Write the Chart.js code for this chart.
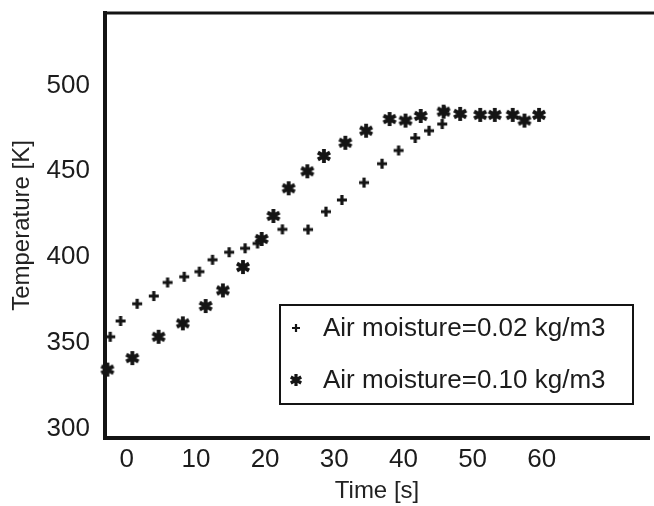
<!DOCTYPE html>
<html>
<head>
<meta charset="utf-8">
<script src="https://cdn.jsdelivr.net/npm/chart.js@4.4.1/dist/chart.umd.min.js"></script>
<style>
  html, body { margin: 0; padding: 0; background: #fff; overflow: hidden; }
  #wrap { width: 654px; height: 506px; }
</style>
</head>
<body>
<div id="wrap"><canvas id="tempChart" width="654" height="506"></canvas></div>
<script>
const timeLow = [-2.4, -0.9, 1.5, 3.9, 5.9, 8.3, 10.5, 12.4, 14.8, 17.1, 18.9, 22.5, 26.2, 28.8, 31.1, 34.3, 36.9, 39.3, 41.7, 43.7, 45.6, 45.9];
const tempLow = [353.7, 362.9, 372.9, 377.4, 385.3, 388.6, 391.6, 398.5, 402.9, 405.2, 408.0, 416.2, 416.1, 426.5, 433.3, 443.4, 454.4, 462.1, 469.4, 473.6, 477.5, 485.0];

const timeHigh = [-2.8, 0.8, 4.6, 8.1, 11.4, 13.9, 16.8, 19.5, 21.2, 23.4, 26.1, 28.5, 31.6, 34.6, 38.0, 40.3, 42.5, 45.8, 48.2, 51.1, 53.2, 55.8, 57.5, 59.6];
const tempHigh = [334.6, 341.3, 353.7, 361.5, 371.6, 380.7, 394.3, 410.6, 424.0, 440.1, 450.0, 458.9, 466.6, 473.6, 480.4, 479.5, 482.2, 484.7, 483.4, 482.8, 482.8, 482.8, 479.5, 482.8];

const seriesLabels = ['Air moisture=0.02 kg/m3', 'Air moisture=0.10 kg/m3'];
const xTicks = [0, 10, 20, 30, 40, 50, 60];
const yTicks = [300, 350, 400, 450, 500];

const ink = '#141414';
const fontFam = '"Liberation Sans", Arial, sans-serif';

function makeMarker(kind, size, lw) {
  const c = document.createElement('canvas');
  c.width = size; c.height = size;
  const g = c.getContext('2d');
  const m = size / 2, r = size / 2 - 1;
  g.strokeStyle = ink;
  g.lineWidth = lw;
  g.beginPath();
  if (kind === 'plus') {
    g.moveTo(m - r, m); g.lineTo(m + r, m);
    g.moveTo(m, m - r); g.lineTo(m, m + r);
  } else {
    for (let k = 0; k < 3; k++) {
      const a = Math.PI / 2 + k * Math.PI / 3;
      g.moveTo(m + r * Math.cos(a), m + r * Math.sin(a));
      g.lineTo(m - r * Math.cos(a), m - r * Math.sin(a));
    }
  }
  g.stroke();
  return c;
}

const plusMark = makeMarker('plus', 12, 3.2);
const starMark = makeMarker('star', 16, 3.8);
const plusSmall = makeMarker('plus', 10, 2.2);
const starSmall = makeMarker('star', 14, 3.2);

const toPoints = (xs, ys) => xs.map((x, i) => ({ x: x, y: ys[i] }));

const framePlugin = {
  id: 'frame',
  beforeDatasetsDraw(chart) {
    const { ctx, chartArea } = chart;
    ctx.save();
    ctx.strokeStyle = ink;
    ctx.lineWidth = 3;
    ctx.beginPath();
    ctx.moveTo(chartArea.left - 2, chartArea.top);
    ctx.lineTo(chart.width, chartArea.top);
    ctx.stroke();
    ctx.restore();
  }
};

const boxLegend = {
  id: 'boxLegend',
  afterDraw(chart) {
    const ctx = chart.ctx;
    const left = 280, top = 305, w = 353, h = 99;
    ctx.save();
    ctx.fillStyle = '#fff';
    ctx.fillRect(left, top, w, h);
    ctx.strokeStyle = ink;
    ctx.lineWidth = 2;
    ctx.strokeRect(left, top, w, h);
    const marks = [plusSmall, starSmall];
    const rows = [328, 380];
    ctx.font = '26px ' + fontFam;
    ctx.fillStyle = '#1c1c1c';
    ctx.textBaseline = 'middle';
    chart.data.datasets.forEach((ds, i) => {
      const mk = marks[i];
      ctx.drawImage(mk, 296 - mk.width / 2, rows[i] - mk.height / 2);
      ctx.fillText(ds.label, 323, rows[i] + 1);
    });
    ctx.restore();
  }
};

new Chart(document.getElementById('tempChart'), {
  type: 'scatter',
  data: {
    datasets: [
      {
        label: seriesLabels[0],
        data: toPoints(timeLow, tempLow),
        pointStyle: plusMark,
        showLine: false,
        clip: false
      },
      {
        label: seriesLabels[1],
        data: toPoints(timeHigh, tempHigh),
        pointStyle: starMark,
        showLine: false,
        clip: false
      }
    ]
  },
  options: {
    responsive: false,
    animation: false,
    devicePixelRatio: 1,
    events: [],
    layout: { padding: { top: 13, right: 0, left: 0, bottom: 0 } },
    plugins: {
      legend: { display: false },
      tooltip: { enabled: false }
    },
    scales: {
      x: {
        type: 'linear',
        min: -3.15,
        max: 75.5,
        afterBuildTicks: s => { s.ticks = xTicks.map(v => ({ value: v })); },
        afterFit: s => { s.height = 68; s.paddingLeft = 0; s.paddingRight = 0; },
        grid: { display: false, drawTicks: false },
        border: { display: true, color: ink, width: 4 },
        ticks: {
          padding: 6,
          color: '#1c1c1c',
          maxRotation: 0,
          autoSkip: false,
          font: { family: fontFam, size: 26 }
        },
        title: {
          display: true,
          text: 'Time [s]',
          color: '#222',
          padding: { top: 4, bottom: 0 },
          font: { family: fontFam, size: 24 }
        }
      },
      y: {
        type: 'linear',
        min: 294.8,
        max: 542.1,
        afterBuildTicks: s => { s.ticks = yTicks.map(v => ({ value: v })); },
        afterFit: s => { s.width = 105; s.paddingTop = 0; s.paddingBottom = 0; },
        grid: { display: false, drawTicks: false },
        border: { display: true, color: ink, width: 4 },
        ticks: {
          padding: 15,
          color: '#1c1c1c',
          autoSkip: false,
          font: { family: fontFam, size: 26 }
        },
        title: {
          display: true,
          text: 'Temperature [K]',
          color: '#222',
          padding: { top: 8, bottom: 0 },
          font: { family: fontFam, size: 24 }
        }
      }
    }
  },
  plugins: [framePlugin, boxLegend]
});
</script>
</body>
</html>
